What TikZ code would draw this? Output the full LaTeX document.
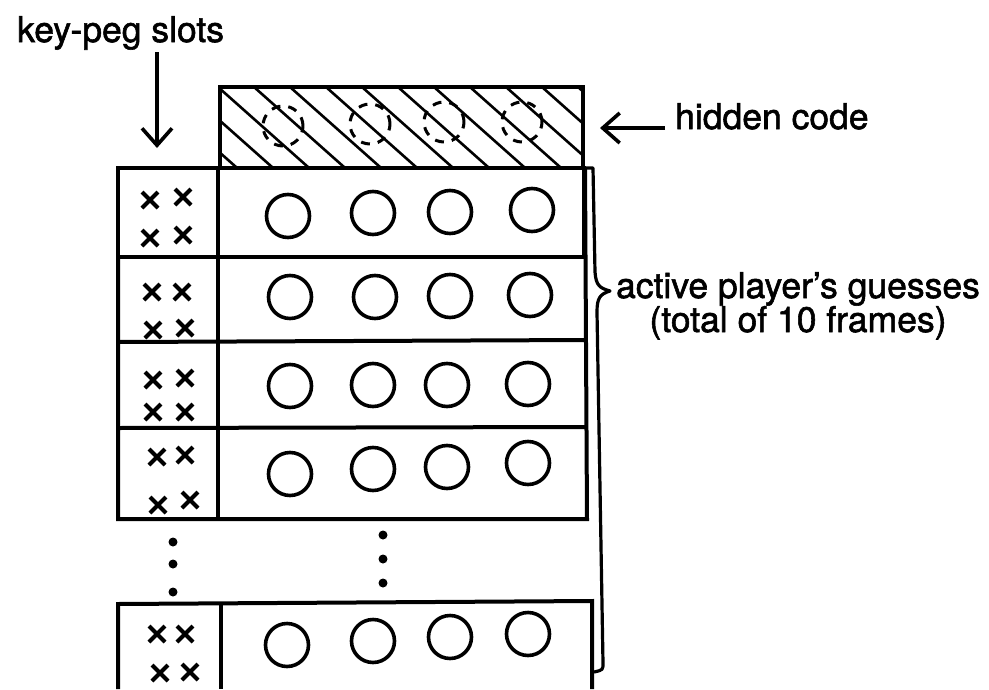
\documentclass[tikz,border=0pt]{standalone}
\usepackage{fontspec}
\setmainfont{TeX Gyre Heros}
\usetikzlibrary{shapes.misc,arrows.meta}
\begin{document}
\begin{tikzpicture}[x=1pt,y=-1pt,
  frame/.style={line width=4pt,line join=miter},
  peg/.style={circle,draw,line width=3.6pt,minimum width=43pt,minimum height=42pt,inner sep=0pt},
  hpeg/.style={circle,draw,line width=3pt,minimum size=40pt,inner sep=0pt,dash pattern=on 9pt off 8pt},
  xmark/.style={cross out,draw,line width=4pt,minimum size=12pt,inner sep=0pt},
  dotm/.style={circle,fill,minimum size=9pt,inner sep=0pt},
  lbl/.style={inner sep=0pt,font=\fontsize{35.5}{40}\selectfont\addfontfeature{FakeBold=1.6}},
  hatch/.style={line width=2.6pt},
  ptr/.style={line width=3.6pt,-{Straight Barb[length=17pt,width=30pt,line width=3.6pt]}}
]
\useasboundingbox (0,0) rectangle (989,689);

% hidden code box
\begin{scope}
\clip (220,87) rectangle (583,167);
\foreach \s in {110,146,...,620}{
  \draw[hatch] (\s,87) -- ++(90,80);
}
\end{scope}
\draw[frame] (220,167) -- (220,87) -- (583,87) -- (583,167);
\node[hpeg] (h1) at (283,126) {};
\node[hpeg] (h2) at (370,124) {};
\node[hpeg] (h3) at (444,122) {};
\node[hpeg] (h4) at (522,122) {};

% frames
\draw[frame] (118,168) rectangle (584,257);
\draw[frame] (118,257) -- (118,519) -- (587,519) -- (585,168);
\draw[frame] (118,342) -- (586,340);
\draw[frame] (118,428) -- (587,427);
\draw[frame] (218,168) -- (218,519);

% last frame
\draw[frame] (118,689) -- (118,604) -- (592,601) -- (592,689);
\draw[frame] (221,604) -- (221,689);

% guess pegs
\node[peg] (p11) at (288,216) {};
\node[peg] (p12) at (373,213) {};
\node[peg] (p13) at (450,212) {};
\node[peg] (p14) at (532,210) {};
\node[peg] (p21) at (290,297) {};
\node[peg] (p22) at (375,297) {};
\node[peg] (p23) at (450,296) {};
\node[peg] (p24) at (530,295) {};
\node[peg] (p31) at (290,386) {};
\node[peg] (p32) at (373,385) {};
\node[peg] (p33) at (447,385) {};
\node[peg] (p34) at (528,384) {};
\node[peg] (p41) at (290,474) {};
\node[peg] (p42) at (373,469) {};
\node[peg] (p43) at (447,467) {};
\node[peg] (p44) at (528,463) {};
\node[peg] (p51) at (287,645) {};
\node[peg] (p52) at (373,641) {};
\node[peg] (p53) at (450,637) {};
\node[peg] (p54) at (528,634) {};

% key pegs
\node[xmark] (k11) at (150,200) {};
\node[xmark] (k12) at (183,197) {};
\node[xmark] (k13) at (150,238) {};
\node[xmark] (k14) at (183,235) {};
\node[xmark] (k21) at (152,292) {};
\node[xmark] (k22) at (182,292) {};
\node[xmark] (k23) at (153,330) {};
\node[xmark] (k24) at (185,328) {};
\node[xmark] (k31) at (153,380) {};
\node[xmark] (k32) at (185,378) {};
\node[xmark] (k33) at (153,412) {};
\node[xmark] (k34) at (185,412) {};
\node[xmark] (k41) at (157,457) {};
\node[xmark] (k42) at (185,455) {};
\node[xmark] (k43) at (158,505) {};
\node[xmark] (k44) at (190,500) {};
\node[xmark] (k51) at (157,634) {};
\node[xmark] (k52) at (185,634) {};
\node[xmark] (k53) at (160,673) {};
\node[xmark] (k54) at (190,672) {};

% ellipsis dots
\node[dotm] (d1) at (173,542) {};
\node[dotm] (d2) at (173,564) {};
\node[dotm] (d3) at (173,592) {};
\node[dotm] (d4) at (383,535) {};
\node[dotm] (d5) at (383,559) {};
\node[dotm] (d6) at (383,583) {};

% brace
\draw[line width=3.2pt,line join=round] (584,168) -- (593,168) -- (595,272)
  .. controls (596,286) and (600,288) .. (610,291)
  .. controls (600,294) and (597,298) .. (597,312)
  -- (603,663) .. controls (603,670) .. (594,672);

% labels
\node[lbl,anchor=base west] (kp) at (17,42) {key-peg slots};
\coordinate (kpt) at (157,148);
\draw[ptr] (157,52) -- (kpt);
\node[lbl,anchor=base west] (hc) at (675,129) {hidden code};
\coordinate (hct) at (600,128);
\draw[ptr] ([xshift=-10pt]hc.west |- 0,128) -- (hct);
\node[lbl,anchor=base] (g1) at (798,298) {active player’s guesses};
\node[lbl,anchor=base] (g2) at (798,332) {(total of 10 frames)};
\end{tikzpicture}
\end{document}
